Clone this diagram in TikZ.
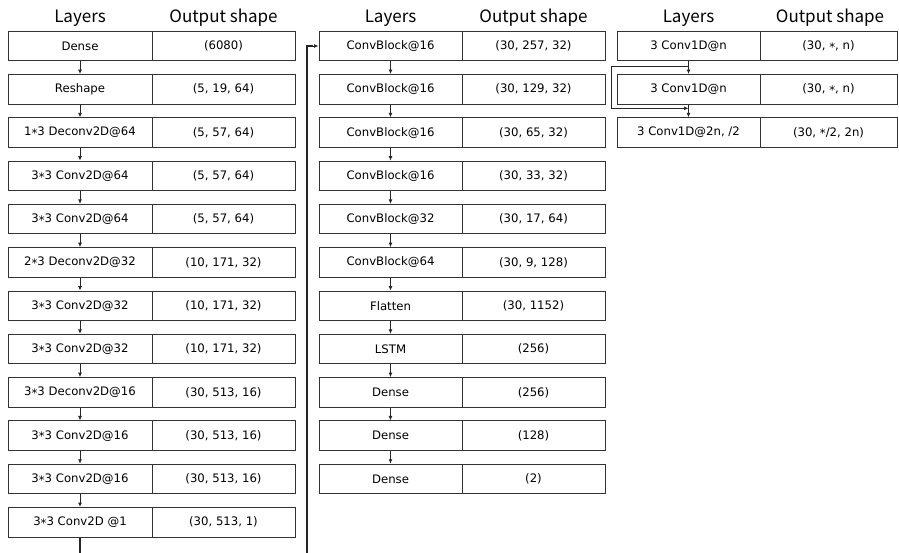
\documentclass[tikz,border=0pt]{standalone}
\usepackage{fontspec}
\setmainfont{Noto Sans CJK KR}
\newfontfamily\cellfont{DejaVu Sans}
\usetikzlibrary{arrows.meta}
% centred multiplication asterisk
\newcommand\mul{\raisebox{-0.3ex}{*}}
\begin{document}
\begin{tikzpicture}[x=1pt,y=-1pt,
  cell/.style={draw=black!80, line width=1pt, minimum height=29.5pt, inner sep=0pt,
               font=\cellfont\fontsize{11.7}{14}\selectfont},
  hdr/.style={font=\fontsize{17}{20}\selectfont},
  flow/.style={draw=black!85, line width=0.9pt, -{Latex[length=4.5pt,width=4pt]}},
  link/.style={draw=black!85, line width=1.7pt}]
\useasboundingbox (0,0) rectangle (899,553);

% headers
\node[hdr] at (80,18) {Layers};
\node[hdr] at (223.5,18) {Output shape};
\node[hdr] at (390.5,18) {Layers};
\node[hdr] at (533.5,18) {Output shape};
\node[hdr] at (688.5,18) {Layers};
\node[hdr] at (830,18) {Output shape};

% generator stack
\foreach [count=\k] \a/\b in {
  Dense/{(6080)},
  Reshape/{(5, 19, 64)},
  {1\mul3 Deconv2D@64}/{(5, 57, 64)},
  {3\mul3 Conv2D@64}/{(5, 57, 64)},
  {3\mul3 Conv2D@64}/{(5, 57, 64)},
  {2\mul3 Deconv2D@32}/{(10, 171, 32)},
  {3\mul3 Conv2D@32}/{(10, 171, 32)},
  {3\mul3 Conv2D@32}/{(10, 171, 32)},
  {3\mul3 Deconv2D@16}/{(30, 513, 16)},
  {3\mul3 Conv2D@16}/{(30, 513, 16)},
  {3\mul3 Conv2D@16}/{(30, 513, 16)},
  {3\mul3 Conv2D @1}/{(30, 513, 1)}} {
  \node[cell, minimum width=144pt] (La\k) at (80, {46+43.3*(\k-1)}) {\a};
  \node[cell, minimum width=143pt] (Ra\k) at (223.5, {46+43.3*(\k-1)}) {\b};
}
\foreach \k [evaluate=\k as \n using int(\k+1)] in {1,...,11}
  \draw[flow] (La\k.south) -- (La\n.north);

% discriminator stack
\foreach [count=\k] \a/\b in {
  ConvBlock@16/{(30, 257, 32)},
  ConvBlock@16/{(30, 129, 32)},
  ConvBlock@16/{(30, 65, 32)},
  ConvBlock@16/{(30, 33, 32)},
  ConvBlock@32/{(30, 17, 64)},
  ConvBlock@64/{(30, 9, 128)},
  Flatten/{(30, 1152)},
  LSTM/{(256)},
  Dense/{(256)},
  Dense/{(128)},
  Dense/{(2)}} {
  \node[cell, minimum width=143pt] (Lb\k) at (390.5, {46+43.3*(\k-1)}) {\a};
  \node[cell, minimum width=143pt] (Rb\k) at (533.5, {46+43.3*(\k-1)}) {\b};
}
\foreach \k [evaluate=\k as \n using int(\k+1)] in {1,...,10}
  \draw[flow] (Lb\k.south) -- (Lb\n.north);

% conv block detail
\foreach [count=\k] \a/\b in {
  {3 Conv1D@n}/{(30, \mul, n)},
  {3 Conv1D@n}/{(30, \mul, n)},
  {3 Conv1D@2n, /2}/{(30, \mul/2, 2n)}} {
  \node[cell, minimum width=143pt] (Lc\k) at (688.5, {46+43.3*(\k-1)}) {\a};
  \node[cell, minimum width=137pt] (Rc\k) at (828.5, {46+43.3*(\k-1)}) {\b};
}
\draw[flow] (Lc1.south) -- (Lc2.north);
\draw[flow] (Lc2.south) -- (Lc3.north);
% residual bypass
\path (Lc1.south) ++(0,5) coordinate (s0);
\path (Lc3.north) ++(0,-9) coordinate (s1);
\draw[flow] (s0) -- ++(-77,0) |- (s1);

% generator output continues into the discriminator
\coordinate (gout) at (80,553);
\coordinate (din) at (306.7,553);
\draw[link] (La12.south) -- (gout);
\draw[link] (din) |- ([xshift=-6pt]Lb1.west);
\draw[flow] ([xshift=-7pt]Lb1.west) -- (Lb1.west);
\end{tikzpicture}
\end{document}
